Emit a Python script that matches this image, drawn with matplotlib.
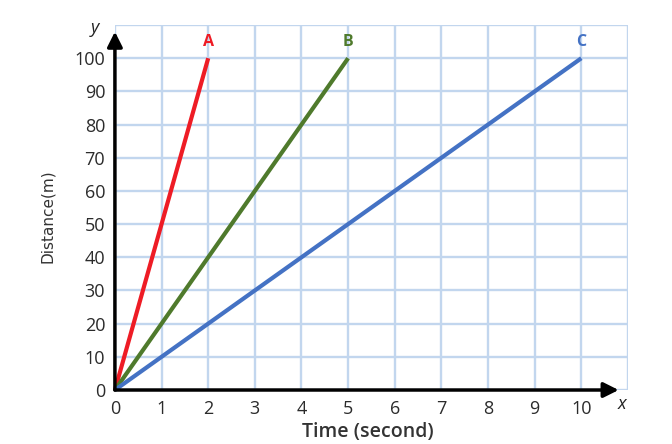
import matplotlib.pyplot as plt
import matplotlib as mpl

mpl.rcParams['font.family'] = ['Open Sans', 'DejaVu Sans']

# data
line_names = ['A', 'B', 'C']
time_end = [2, 5, 10]          # seconds when each line reaches 100 m
dist_end = [100, 100, 100]
line_colors = ['#ee1c25', '#4f7a2c', '#4472c4']

x_ticks = list(range(0, 12))
x_labels = [str(v) for v in range(0, 11)] + ['']
y_ticks = list(range(0, 120, 10))
y_labels = [str(v) for v in range(0, 110, 10)] + ['']

fig = plt.figure(figsize=(6.72, 4.44), dpi=100)
ax = fig.add_axes([0.171, 0.1216, 0.7635, 0.822])
ax.set_xlim(0, 11)
ax.set_ylim(0, 110)

for s in ax.spines.values():
    s.set_visible(False)

ax.set_xticks(x_ticks)
ax.set_xticklabels(x_labels)
ax.set_yticks(y_ticks)
ax.set_yticklabels(y_labels)
ax.tick_params(length=0, labelsize=13, colors='#2b2b2b')
ax.tick_params(axis='x', pad=7)
ax.tick_params(axis='y', pad=7)
ax.grid(True, color='#c2d6ee', linewidth=1.7)
ax.set_axisbelow(True)

# lines
for name, t, d, c in zip(line_names, time_end, dist_end, line_colors):
    ax.plot([0, t], [0, d], color=c, linewidth=3, clip_on=False,
            solid_capstyle='butt', zorder=3)
    ax.text(t, d + 5, name, color=c, fontsize=11.5, fontweight='bold',
            ha='center', va='center')

# axis arrows
ax.annotate('', xy=(0, 108), xytext=(0, 0),
            arrowprops=dict(arrowstyle='-|>,head_width=0.45,head_length=0.9',
                            color='black', lw=2.5, shrinkA=0, shrinkB=0),
            annotation_clip=False, zorder=4)
ax.annotate('', xy=(10.8, 0), xytext=(0, 0),
            arrowprops=dict(arrowstyle='-|>,head_width=0.45,head_length=0.9',
                            color='black', lw=2.5, shrinkA=0, shrinkB=0),
            annotation_clip=False, zorder=4)

ax.text(-0.43, 109, 'y', fontsize=13, style='italic', color='#222222',
        ha='center', va='center')
ax.text(10.88, -4.2, 'x', fontsize=13, style='italic', color='#222222',
        ha='center', va='center')

fig.text(0.548, 0.027, 'Time (second)', fontsize=14, fontweight='semibold',
         color='#333333', ha='center', va='center')
fig.text(0.07, 0.513, 'Distance(m)', fontsize=11, rotation=90,
         family=['Liberation Sans Narrow', 'DejaVu Sans'],
         color='#333333', ha='center', va='center')

plt.savefig('out.png', dpi=100)
